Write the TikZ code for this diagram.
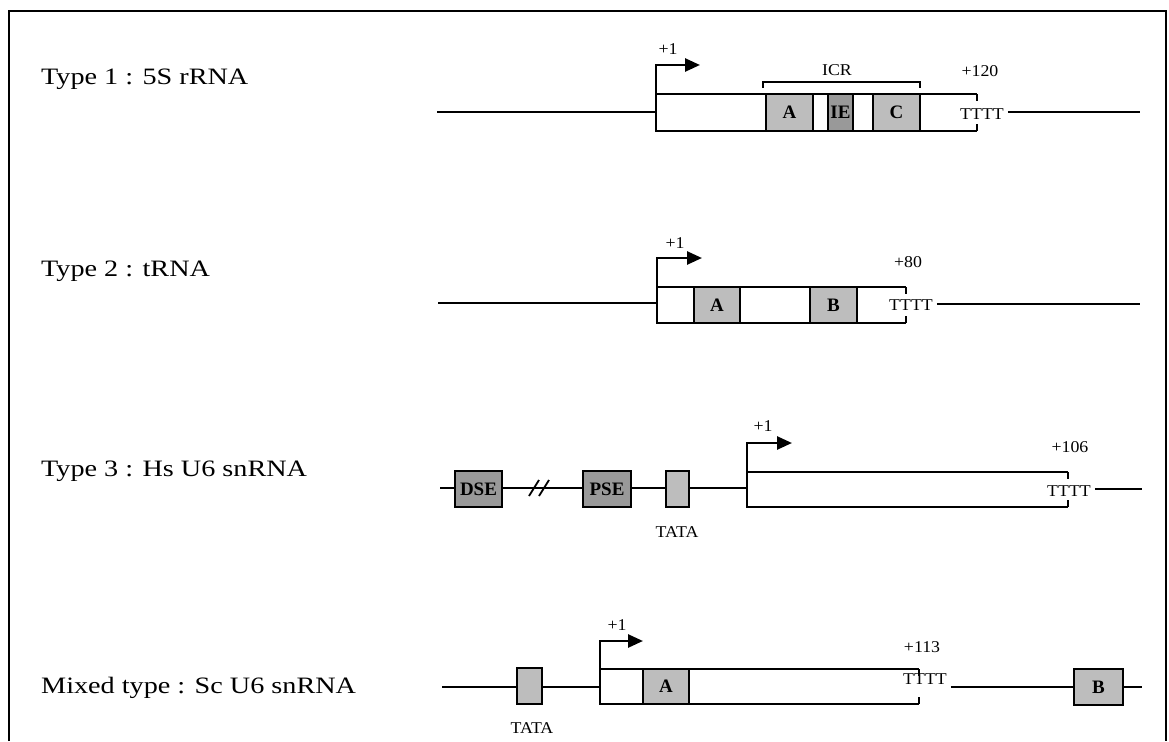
\documentclass[tikz,border=0pt]{standalone}
\usepackage{fontspec}
\setmainfont{Liberation Serif}
\newfontfamily\widefont[FakeStretch=1.2]{Liberation Serif}
\newfontfamily\smallfont[FakeStretch=1.08]{Liberation Serif}
\usetikzlibrary{arrows.meta}
\begin{document}
\begin{tikzpicture}[x=1pt,y=-1pt,
  dna/.style={line width=2.6pt},
  gbox/.style={rectangle,draw=none,inner sep=0pt,outer sep=0pt},
  gedge/.style={line width=1.6pt},
  elem/.style={rectangle,draw,line width=1.8pt,fill=black!26,inner sep=0pt,outer sep=0pt,font=\fontsize{19}{19}\selectfont\bfseries},
  darkelem/.style={elem,fill=black!40},
  rowlabel/.style={anchor=west,inner sep=0pt,font=\widefont\fontsize{23.5}{27}\selectfont},
  num/.style={inner sep=0pt,font=\smallfont\fontsize{16.5}{18}\selectfont},
  tsa/.style={line width=2.6pt,-{Triangle[length=15pt,width=13pt]}},
  brk/.style={line width=1.8pt},
]
\useasboundingbox (0,0) rectangle (1169,741);
% frame
\coordinate (f1) at (9,741);
\coordinate (f2) at (9,11);
\coordinate (f3) at (1166,11);
\coordinate (f4) at (1166,741);
\draw[line width=1.3pt] (f1) -- (f2) -- (f3) -- (f4);

% ---------------- Row 1 ----------------
\node[rowlabel] (lab1) at (41,79) {Type 1 : 5S rRNA};
\coordinate (L1) at (437,112);
\coordinate (R1) at (1140,112);
\node[gbox,minimum width=321pt,minimum height=37pt] (g1) at (816.5,112.5) {};
\node[elem,minimum width=47pt,minimum height=37pt] (a1) at (789.5,112.5) {A};
\node[darkelem,minimum width=25pt,minimum height=37pt] (ie1) at (840.5,112.5) {IE};
\node[elem,minimum width=47pt,minimum height=37pt] (c1) at (896.5,112.5) {C};
\draw[gedge] (g1.north east) -- (g1.north west) -- (g1.south west) -- (g1.south east);
\draw[gedge] (g1.north east) -- ++(0,7);
\draw[gedge] (g1.south east) -- ++(0,-7);
\draw[dna] (L1) -- (L1 -| g1.west);
\draw[tsa] (g1.north west) -- ++(0,-29) -- ++(44,0);
\node[num] (p1a) at (668,49) {+1};
\coordinate (icrL) at (763,88);
\coordinate (icrR) at (920,88);
\draw[line width=1.5pt] (icrL) -- ++(0,-6) -| (icrR);
\node[num] (icr) at (837,70) {ICR};
\node[num] (p1b) at (980,71) {+120};
\node[num] (tt1) at (982,114) {TTTT};
\draw[dna] ([xshift=4pt]tt1.east |- R1) -- (R1);

% ---------------- Row 2 ----------------
\node[rowlabel] (lab2) at (41,271) {Type 2 : tRNA};
\coordinate (L2) at (438,303);
\coordinate (R2) at (1140,304);
\node[gbox,minimum width=249pt,minimum height=36pt] (g2) at (781.5,305) {};
\node[elem,minimum width=46pt,minimum height=36pt] (a2) at (717,305) {A};
\node[elem,minimum width=47pt,minimum height=36pt] (b2) at (833.5,305) {B};
\draw[gedge] (g2.north east) -- (g2.north west) -- (g2.south west) -- (g2.south east);
\draw[gedge] (g2.north east) -- ++(0,7);
\draw[gedge] (g2.south east) -- ++(0,-7);
\draw[dna] (L2) -- (L2 -| g2.west);
\draw[tsa] (g2.north west) -- ++(0,-29) -- ++(45,0);
\node[num] (p2a) at (675,243) {+1};
\node[num] (p2b) at (908,262) {+80};
\node[num] (tt2) at (911,305) {TTTT};
\draw[dna] ([xshift=4pt]tt2.east |- R2) -- (R2);

% ---------------- Row 3 ----------------
\node[rowlabel] (lab3) at (41,471) {Type 3 : Hs U6 snRNA};
\coordinate (L3) at (440,488);
\coordinate (R3) at (1142,489);
\node[darkelem,minimum width=47pt,minimum height=36pt] (dse) at (478.5,489) {DSE};
\node[darkelem,minimum width=48pt,minimum height=36pt] (pse) at (607,489) {PSE};
\node[elem,minimum width=23pt,minimum height=36pt] (tata3) at (677.5,489) {};
\node[gbox,minimum width=321pt,minimum height=35pt] (g3) at (907.5,489.5) {};
\draw[gedge] (g3.north east) -- (g3.north west) -- (g3.south west) -- (g3.south east);
\draw[gedge] (g3.north east) -- ++(0,7);
\draw[gedge] (g3.south east) -- ++(0,-7);
\draw[dna] (L3) -- (L3 -| dse.west);
\draw[dna] (dse.east |- L3) -- (L3 -| pse.west);
\draw[dna] (pse.east |- L3) -- (L3 -| tata3.west);
\draw[dna] (tata3.east |- L3) -- (L3 -| g3.west);
\coordinate (brk1) at (534,488);
\coordinate (brk2) at (544,488);
\draw[brk] ([shift={(-5,8)}]brk1) -- ([shift={(5,-8)}]brk1);
\draw[brk] ([shift={(-5,8)}]brk2) -- ([shift={(5,-8)}]brk2);
\node[num] (tl3) at (677,532) {TATA};
\draw[tsa] (g3.north west) -- ++(0,-29) -- ++(45,0);
\node[num] (p3a) at (763,426) {+1};
\node[num] (p3b) at (1070,447) {+106};
\node[num] (tt3) at (1069,491) {TTTT};
\draw[dna] ([xshift=4pt]tt3.east |- R3) -- (R3);

% ---------------- Row 4 ----------------
\node[rowlabel] (lab4) at (41,688) {Mixed type : Sc U6 snRNA};
\coordinate (L4) at (442,687);
\coordinate (R4) at (1142,687);
\node[elem,minimum width=25pt,minimum height=36pt] (tata4) at (529.5,686) {};
\node[gbox,minimum width=319pt,minimum height=35pt] (g4) at (759.5,686.5) {};
\node[elem,minimum width=46pt,minimum height=35pt] (a4) at (666,686.5) {A};
\node[elem,minimum width=49pt,minimum height=36pt] (b4) at (1098.5,687) {B};
\draw[gedge] (g4.north east) -- (g4.north west) -- (g4.south west) -- (g4.south east);
\draw[gedge] (g4.north east) -- ++(0,7);
\draw[gedge] (g4.south east) -- ++(0,-7);
\draw[dna] (L4) -- (L4 -| tata4.west);
\draw[dna] (tata4.east |- L4) -- (L4 -| g4.west);
\draw[tsa] (g4.north west) -- ++(0,-28) -- ++(43,0);
\node[num] (p4a) at (617,625) {+1};
\node[num] (p4b) at (922,647) {+113};
\node[num] (tt4) at (925,679) {TTTT};
\draw[dna] ([xshift=4pt]tt4.east |- L4) -- (L4 -| b4.west);
\draw[dna] (b4.east |- L4) -- (R4);
\node[num] (tl4) at (532,728) {TATA};
\end{tikzpicture}
\end{document}
